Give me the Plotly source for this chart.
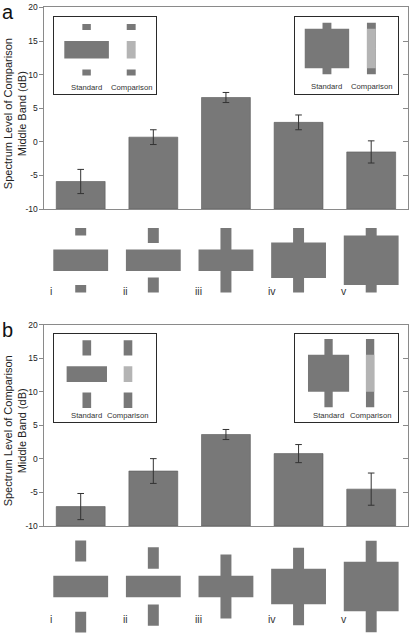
import plotly.graph_objects as go

# ---------------- data ----------------
categories = ["i", "ii", "iii", "iv", "v"]
ytick_vals = [-10, -5, 0, 5, 10, 15, 20]
ytick_labels = ["-10", "-5", "0", "5", "10", "15", "20"]

# panel a: spectrum level of comparison middle band (dB)
a_means = [-5.9, 0.7, 6.6, 2.9, -1.5]
a_err = [1.8, 1.1, 0.75, 1.1, 1.65]
# panel b
b_means = [-7.1, -1.8, 3.65, 0.8, -4.5]
b_err = [1.95, 1.85, 0.75, 1.35, 2.4]

# stimulus schematics (units: half-height of middle band in condition i)
a_middle_half = [1.0, 1.0, 1.0, 1.64, 2.29]
a_flank_inner = [2.28, 1.6, 0.0, 0.0, 0.0]
a_flank_outer = [2.97, 2.97, 2.97, 2.97, 2.97]
b_middle_half = [1.0, 1.0, 1.0, 1.66, 2.32]
b_flank_inner = [2.35, 1.67, 0.0, 0.0, 0.0]
b_flank_outer = [4.31, 3.67, 3.0, 3.62, 4.29]

inset_labels = ["Standard", "Comparison"]
y_title = "Spectrum Level of Comparison<br>Middle Band (dB)"
panel_letters = ["a", "b"]

# ---------------- style ----------------
W, H = 409, 638
DARK = "#787878"
LIGHT = "#b4b4b4"
FRAME = "#8a8a8a"
FONT = "Liberation Sans, Arial, sans-serif"


def xd(a, b):
    return [a / W, b / W]


def yd(top, bottom):
    return [1 - bottom / H, 1 - top / H]


fig = go.Figure()
layout = dict(
    width=W, height=H, margin=dict(l=0, r=0, t=0, b=0),
    paper_bgcolor="white", plot_bgcolor="white",
    barmode="overlay", showlegend=False,
    font=dict(family=FONT, color="#222"),
)
annotations = []

n = len(categories)
xs = list(range(n))


def hidden_axis(domain, rng, anchor):
    return dict(domain=domain, range=rng, anchor=anchor, showgrid=False, zeroline=False,
                showticklabels=False, ticks="", showline=False, fixedrange=True)


def box_axis(domain, rng, anchor):
    d = hidden_axis(domain, rng, anchor)
    d.update(showline=True, mirror=True, linecolor="#2a2a2a", linewidth=1)
    return d


def add_schematic(xv, mid, inner, outer, xa, ya, mid_w, fl_w, mid_colors):
    # flanking bands (top and bottom)
    fig.add_trace(go.Bar(x=xv, y=[o - i for o, i in zip(outer, inner)], base=inner,
                         width=fl_w, marker=dict(color=DARK, line=dict(width=0)),
                         xaxis=xa, yaxis=ya, hoverinfo="skip"))
    fig.add_trace(go.Bar(x=xv, y=[o - i for o, i in zip(outer, inner)], base=[-o for o in outer],
                         width=fl_w, marker=dict(color=DARK, line=dict(width=0)),
                         xaxis=xa, yaxis=ya, hoverinfo="skip"))
    # middle band
    fig.add_trace(go.Bar(x=xv, y=[2 * m for m in mid], base=[-m for m in mid],
                         width=mid_w, marker=dict(color=mid_colors, line=dict(width=0)),
                         xaxis=xa, yaxis=ya, hoverinfo="skip"))


panels = [
    dict(means=a_means, err=a_err, mid=a_middle_half, inner=a_flank_inner, outer=a_flank_outer,
         top=2.5, bottom=207.3, ax=["x", "y", "y2", "x3", "y3", "x4", "y4", "x5", "y5"],
         sch_dom=(219.3, 299.3), sch_rng=[-3.636, 3.636], roman_y=-2.88,
         insL=dict(xdom=(54, 156), ydom=(12.3, 90), xr=[-0.734, 1.548], yr=[-5.06, 3.77],
                   mw=1.0, fw=[0.19, 0.2], cw=0.2, ly=-4.3),
         insR=dict(xdom=(295.7, 399), ydom=(12.3, 90), xr=[-0.72, 1.6], yr=[-5.21, 3.62],
                   mw=1.0, fw=[0.2, 0.2], cw=0.2, ly=-4.35),
         letter_y=7),
    dict(means=b_means, err=b_err, mid=b_middle_half, inner=b_flank_inner, outer=b_flank_outer,
         top=325, bottom=529.3, ax=["x6", "y6", "y7", "x8", "y8", "x9", "y9", "x10", "y10"],
         sch_dom=(543, 638), sch_rng=[-4.35, 4.405], roman_y=-3.0,
         insL=dict(xdom=(54, 156.7), ydom=(334, 424), xr=[-0.8, 1.688], yr=[-6.125, 5.125],
                   mw=0.98, fw=[0.21, 0.21], cw=0.21, ly=-5.21),
         insR=dict(xdom=(295.7, 399), ydom=(334, 424), xr=[-0.808, 1.672], yr=[-6.17, 4.94],
                   mw=0.99, fw=[0.2, 0.2], cw=0.2, ly=-5.27),
         letter_y=330.5),
]

for pi, p in enumerate(panels):
    xm, ym, yr2, xs_, ys_, xl, yl, xr_, yrr = p["ax"]
    ymin = ytick_vals[0]
    # bars
    fig.add_trace(go.Bar(x=xs, y=[v - ymin for v in p["means"]], base=ymin, width=0.673,
                         marker=dict(color=DARK, line=dict(color="#5a5a5a", width=0.6)),
                         xaxis=xm, yaxis=ym, hoverinfo="skip"))
    # error bars
    fig.add_trace(go.Scatter(x=xs, y=p["means"], mode="markers",
                             marker=dict(size=1, opacity=0),
                             error_y=dict(type="data", array=p["err"], color="#333",
                                          thickness=1, width=3.3),
                             xaxis=xm, yaxis=yr2, hoverinfo="skip"))
    xdom = xd(44.5, 408.5)
    layout["xaxis" + xm[1:]] = dict(domain=xdom, range=[-0.5, n - 0.5], anchor=ym,
                                     showgrid=False, zeroline=False, showticklabels=False,
                                     ticks="", showline=True, mirror=True,
                                     linecolor=FRAME, linewidth=1, fixedrange=True)
    layout["yaxis" + ym[1:]] = dict(domain=yd(p["top"], p["bottom"]), range=[-10, 20],
                                     anchor=xm, showgrid=False, zeroline=False,
                                     tickvals=ytick_vals, ticktext=ytick_labels,
                                     ticks="outside", ticklen=4, tickcolor=FRAME,
                                     tickfont=dict(size=8.5, color="#222"),
                                     showline=True, mirror=True, linecolor=FRAME,
                                     linewidth=1, fixedrange=True)
    layout["yaxis" + yr2[1:]] = dict(range=[-10, 20], anchor=xm, overlaying=ym, side="right",
                                      showgrid=False, zeroline=False, tickvals=ytick_vals,
                                      ticks="inside", ticklen=5, tickcolor=FRAME,
                                      showticklabels=False, showline=False, fixedrange=True)
    # schematics under bars
    layout["xaxis" + xs_[1:]] = hidden_axis(xdom, [-0.5, n - 0.5], ys_)
    layout["yaxis" + ys_[1:]] = hidden_axis(yd(*p["sch_dom"]), p["sch_rng"], xs_)
    add_schematic(xs, p["mid"], p["inner"], p["outer"], xs_, ys_, 0.755, 0.151, DARK)
    for k, c in enumerate(categories):
        annotations.append(dict(x=k - 0.45, y=p["roman_y"], xref=xs_, yref=ys_, text=c,
                                showarrow=False, xanchor="left", yanchor="middle",
                                font=dict(size=10.5, color="#333", family=FONT)))
    # insets: standard vs comparison for conditions i and v
    for ins, cond, xa, ya in [(p["insL"], 0, xl, yl), (p["insR"], n - 1, xr_, yrr)]:
        layout["xaxis" + xa[1:]] = box_axis(xd(*ins["xdom"]), ins["xr"], ya)
        layout["yaxis" + ya[1:]] = box_axis(yd(*ins["ydom"]), ins["yr"], xa)
        m, i_, o = p["mid"][cond], p["inner"][cond], p["outer"][cond]
        add_schematic([0, 1], [m, m], [i_, i_], [o, o], xa, ya,
                      [ins["mw"], ins["cw"]], ins["fw"], [DARK, LIGHT])
        for j, lab in enumerate(inset_labels):
            annotations.append(dict(x=j, y=ins["ly"], xref=xa, yref=ya, text=lab,
                                    showarrow=False, xanchor="center", yanchor="middle",
                                    font=dict(size=7.7, color="#333", family=FONT)))
    # y-axis title
    ycen = (p["top"] + p["bottom"]) / 2 + 5
    annotations.append(dict(x=15 / W, y=1 - ycen / H, xref="paper", yref="paper",
                            text=y_title, showarrow=False, textangle=-90,
                            xanchor="center", yanchor="middle",
                            font=dict(size=11, color="#222", family=FONT)))
    # panel letter
    annotations.append(dict(x=0, y=1 - p["letter_y"] / H, xref="paper", yref="paper",
                            text=panel_letters[pi], showarrow=False, xanchor="left",
                            yanchor="middle", font=dict(size=20, color="#111", family=FONT)))

layout["annotations"] = annotations
fig.update_layout(**layout)
fig.write_html("out.html", config={"displayModeBar": False},
               post_script="document.body.style.margin='0';")
